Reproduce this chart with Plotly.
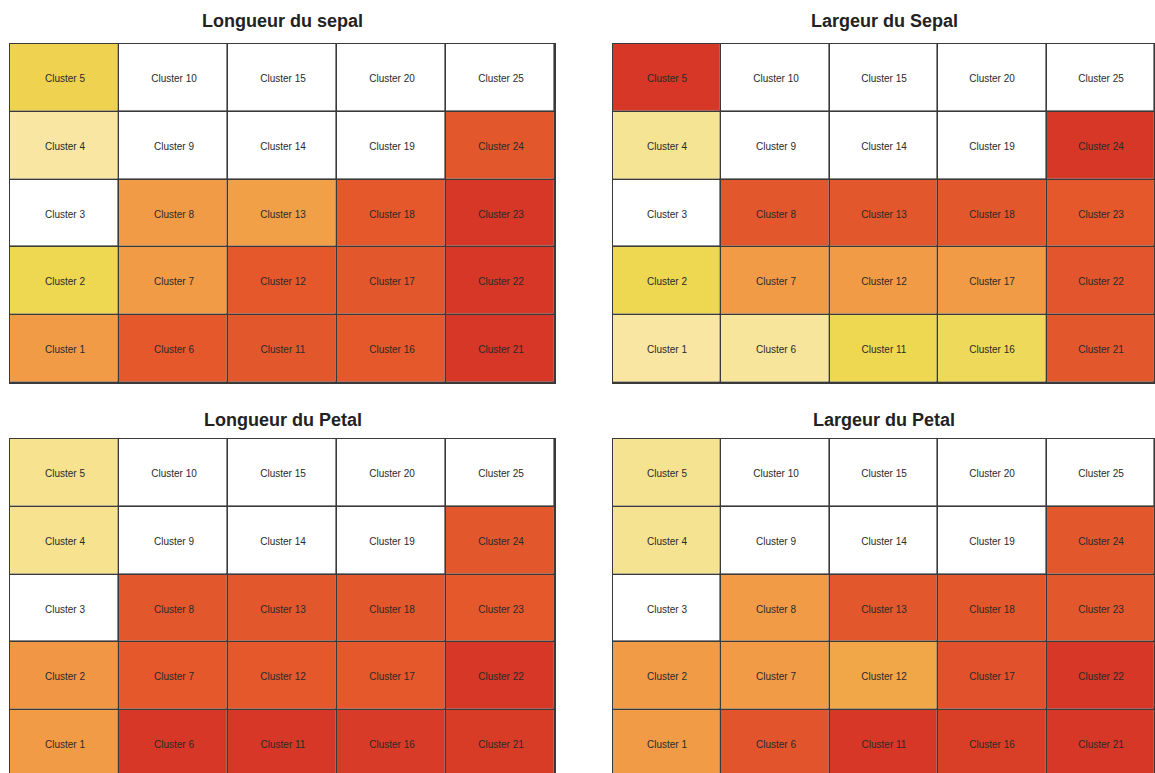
import plotly.graph_objects as go

# Self-organizing map: 5 x 5 grid of clusters, one component plane per iris variable.
# Values are normalised cluster means (0 = lowest, 1 = highest); None = empty cluster.
titles = ["Longueur du sepal", "Largeur du Sepal", "Longueur du Petal", "Largeur du Petal"]

# values listed for Cluster 1 .. Cluster 25
sepal_length = [0.50, 0.25, None, 0.00, 0.27,
                0.75, 0.50, 0.50, None, None,
                0.76, 0.75, 0.48, None, None,
                0.75, 0.76, 0.75, None, None,
                1.00, 1.00, 1.00, 0.76, None]
sepal_width = [0.00, 0.25, None, 0.04, 1.00,
               0.02, 0.50, 0.76, None, None,
               0.25, 0.50, 0.76, None, None,
               0.22, 0.50, 0.76, None, None,
               0.76, 0.77, 0.75, 1.00, None]
petal_length = [0.50, 0.52, None, 0.06, 0.06,
                1.00, 0.75, 0.76, None, None,
                1.00, 0.75, 0.76, None, None,
                0.97, 0.75, 0.76, None, None,
                0.96, 1.00, 0.75, 0.76, None]
petal_width = [0.50, 0.50, None, 0.05, 0.05,
               0.78, 0.50, 0.50, None, None,
               1.00, 0.45, 0.76, None, None,
               0.95, 0.80, 0.76, None, None,
               1.00, 1.00, 0.76, 0.76, None]
planes = [sepal_length, sepal_width, petal_length, petal_width]

n_cols, n_rows = 5, 5
cluster_names = [f"Cluster {k}" for k in range(1, n_cols * n_rows + 1)]

colorscale = [
    [0.00, "#F8E6A2"],
    [0.25, "#EED751"],
    [0.50, "#F29B46"],
    [0.75, "#E4582C"],
    [1.00, "#D63726"],
]


def to_grid(values):
    # Cluster k sits in column (k-1)//5 and row (k-1)%5, row 0 at the bottom
    grid = [[None] * n_cols for _ in range(n_rows)]
    for k, v in enumerate(values):
        grid[k % n_rows][k // n_rows] = v
    return grid


label_grid = to_grid(cluster_names)
blank_grid = [[0] * n_cols for _ in range(n_rows)]

W, H = 1155, 773
# panel boxes in pixels: (left, right, top, bottom)
boxes = [(10, 555, 44, 383), (613, 1155, 44, 383),
         (10, 555, 439, 773), (613, 1155, 439, 773)]
row_px = (383 - 44) / n_rows

fig = go.Figure()
gap = 1.6
for i, (vals, title, box) in enumerate(zip(planes, titles, boxes)):
    xa = "x" if i == 0 else f"x{i + 1}"
    ya = "y" if i == 0 else f"y{i + 1}"
    # white layer under empty clusters
    fig.add_trace(go.Heatmap(
        z=blank_grid, colorscale=[[0, "white"], [1, "white"]], showscale=False,
        xgap=gap, ygap=gap, hoverinfo="skip", xaxis=xa, yaxis=ya))
    fig.add_trace(go.Heatmap(
        z=to_grid(vals), text=label_grid, texttemplate="%{text}",
        textfont=dict(family="Liberation Sans, Arial", size=10, color="#2a2a2a"),
        colorscale=colorscale, zmin=0, zmax=1, showscale=False,
        xgap=gap, ygap=gap, xaxis=xa, yaxis=ya, name=title))

    left, right, top, bottom = box
    visible_rows = (bottom - top) / row_px
    suffix = "" if i == 0 else str(i + 1)
    fig.layout["xaxis" + suffix] = dict(
        domain=[left / W, right / W], range=[-0.5, n_cols - 0.5],
        showticklabels=False, ticks="", showgrid=False, zeroline=False,
        showline=True, mirror=True, linecolor="#3a3a3a", linewidth=1.3,
        anchor=ya, fixedrange=True)
    fig.layout["yaxis" + suffix] = dict(
        domain=[1 - bottom / H, 1 - top / H],
        range=[n_rows - 0.5 - visible_rows, n_rows - 0.5],
        showticklabels=False, ticks="", showgrid=False, zeroline=False,
        showline=True, mirror=(right < W), linecolor="#3a3a3a", linewidth=1.3,
        anchor=xa, fixedrange=True)

    title_y = 21 if top < 100 else 420
    fig.add_annotation(
        text=f"<b>{title}</b>", x=(left + right) / 2 / W, y=1 - title_y / H,
        xref="paper", yref="paper", xanchor="center", yanchor="middle",
        showarrow=False,
        font=dict(family="Liberation Sans, Arial", size=18, color="#222222"))

fig.update_layout(
    width=W, height=H, margin=dict(l=0, r=0, t=0, b=0),
    paper_bgcolor="white", plot_bgcolor="#3a3a3a", showlegend=False)

fig.write_html("out.html")
